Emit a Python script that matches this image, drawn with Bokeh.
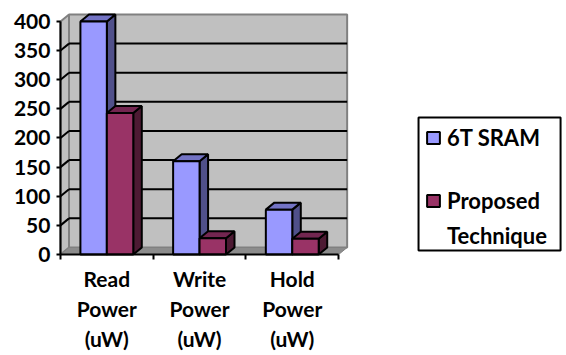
from bokeh.embed import file_html
from bokeh.models import FixedTicker, Legend, LegendItem, Range1d
from bokeh.plotting import figure
from bokeh.resources import INLINE

categories = ["Read\nPower\n(uW)", "Write\nPower\n(uW)", "Hold\nPower\n(uW)"]
legend_rows = ["6T SRAM", " ", "Proposed", "Technique"]
sram_values = [400, 160, 77]
proposed_values = [243, 28, 27]
y_ticks = [0, 50, 100, 150, 200, 250, 300, 350, 400]

FONT = "Lato"
DX, DY = 0.092, 12.0      # oblique depth of the 3D projection, in data units
BAR_W = 0.285

# The plotting area fills the page; the axes sit inside it at the data origin
p = figure(width=566, height=355, output_backend="svg", toolbar_location=None,
           x_range=Range1d(-0.647, 5.458), y_range=Range1d(-173.4, 436),
           min_border=0, background_fill_color="white",
           border_fill_color="white", outline_line_color=None)
p.grid.visible = False

# Frame around the legend
p.quad(left=[3.862], right=[5.394], bottom=[6.9], top=[235], fill_color="white",
       line_color="black", line_width=2)

# Walls and floor of the chart box
p.patch([DX, 3 + DX, 3 + DX, DX], [DY, DY, 400 + DY, 400 + DY],
        fill_color="#c0c0c0", line_color="#808080", line_width=2)
p.patch([0, DX, DX, 0], [0, DY, 400 + DY, 400], fill_color="#c0c0c0",
        line_color="#808080", line_width=2)
p.patch([0, 3, 3 + DX, DX], [0, 0, DY, DY], fill_color="#8c8c8c",
        line_color="#808080", line_width=1)

# Gridlines across the back wall with their slanted run on the side wall
grid = [t for t in y_ticks if 0 < t < 400]
p.segment([DX] * len(grid), [t + DY for t in grid], [3 + DX] * len(grid),
          [t + DY for t in grid], line_color="black", line_width=2)
p.segment([0] * len(grid), grid, [DX] * len(grid), [t + DY for t in grid],
          line_color="black", line_width=2)


def draw_series(values, offset, front, side, top):
    lefts = [i + 0.5 + offset for i in range(len(values))]
    rights = [x + BAR_W for x in lefts]
    p.patches([[r, r + DX, r + DX, r] for r in rights],
              [[0, DY, v + DY, v] for v in values],
              fill_color=side, line_color="black", line_width=2)
    p.patches([[l, r, r + DX, l + DX] for l, r in zip(lefts, rights)],
              [[v, v, v + DY, v + DY] for v in values],
              fill_color=top, line_color="black", line_width=2)
    return p.quad(left=lefts, right=rights, bottom=[0] * len(values), top=values,
                  fill_color=front, line_color="black", line_width=2)


r_sram = draw_series(sram_values, -BAR_W, "#9999ff", "#50508a", "#7373c4")
r_prop = draw_series(proposed_values, 0, "#993366", "#4d1a33", "#732650")
# Empty renderer for legend rows that carry no swatch
r_none = p.quad(left=[], right=[], bottom=[], top=[], fill_color=None, line_color=None)

# Axes; each line stops at the end of the chart box
xa = p.xaxis[0]
xa.fixed_location = 0
xa.ticker = FixedTicker(ticks=[0.5, 1.5, 2.5], minor_ticks=[0, 1, 2, 3])
xa.major_label_overrides = {i + 0.5: c for i, c in enumerate(categories)}
xa.major_tick_line_color = None
xa.minor_tick_in = 0
xa.minor_tick_out = 5
xa.minor_tick_line_color = "black"
xa.minor_tick_line_width = 2
xa.axis_line_color = "black"
xa.axis_line_width = 2
xa.bounds = (0, 3)
xa.major_label_standoff = 6
xa.major_label_text_font = FONT
xa.major_label_text_font_style = "bold"
xa.major_label_text_font_size = "21px"
xa.major_label_text_color = "black"

ya = p.yaxis[0]
ya.fixed_location = 0
ya.ticker = FixedTicker(ticks=y_ticks)
ya.minor_tick_line_color = None
ya.major_tick_in = 0
ya.major_tick_out = 4
ya.major_tick_line_color = "black"
ya.major_tick_line_width = 2
ya.axis_line_color = "black"
ya.axis_line_width = 2
ya.bounds = (0, 400)
ya.major_label_standoff = 6
ya.major_label_text_font = FONT
ya.major_label_text_font_style = "bold"
ya.major_label_text_font_size = "21px"
ya.major_label_text_color = "black"

legend = Legend(items=[LegendItem(label=legend_rows[0], renderers=[r_sram]),
                       LegendItem(label=legend_rows[1], renderers=[r_none]),
                       LegendItem(label=legend_rows[2], renderers=[r_prop]),
                       LegendItem(label=legend_rows[3], renderers=[r_none])],
                location=(425, 106), orientation="vertical",
                glyph_width=16, glyph_height=15, label_standoff=6,
                label_width=107, label_height=20,
                spacing=8, padding=5, margin=0,
                label_text_font=FONT, label_text_font_style="bold",
                label_text_font_size="22px", label_text_color="black",
                border_line_color=None, background_fill_alpha=0)
p.add_layout(legend, "center")

open("out.html", "w").write(file_html(p, INLINE))
